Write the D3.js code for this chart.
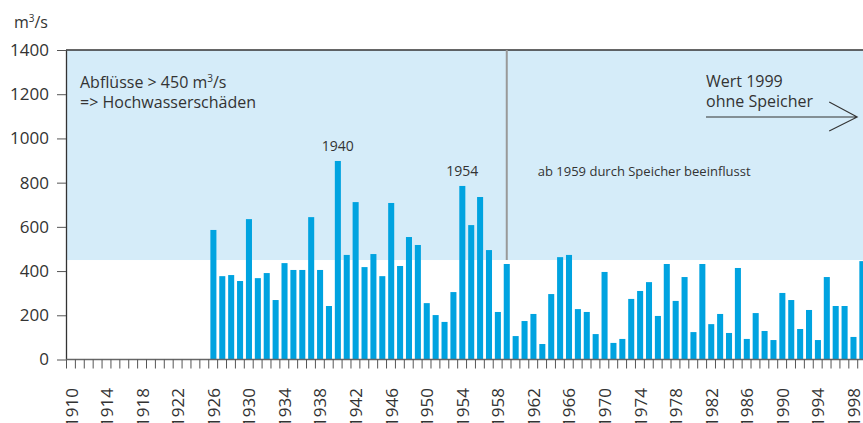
<!DOCTYPE html>
<html>
<head>
<meta charset="utf-8">
<script src="https://cdn.jsdelivr.net/npm/d3@7"></script>
<style>
  body { margin: 0; background: #fff; }
  text { font-family: "Open Sans", sans-serif; fill: #333; }
</style>
</head>
<body>
<div class="container"></div>
<script>
/********** the Data **********/
// years on the x axis (one band per year)
let years = d3.range(1910, 2000);
let tickYears = [1910, 1914, 1918, 1922, 1926, 1930, 1934, 1938, 1942, 1946, 1950,
                 1954, 1958, 1962, 1966, 1970, 1974, 1978, 1982, 1986, 1990, 1994, 1998];
let yTicks = [0, 200, 400, 600, 800, 1000, 1200, 1400];

// peak discharge m3/s, 1926..1999
let flowYears = d3.range(1926, 2000);
let flows = [586, 377, 382, 355, 635, 368, 391, 269, 436, 405,
             405, 644, 405, 242, 898, 473, 712, 418, 477, 377,
             708, 423, 554, 518, 255, 201, 170, 305, 785, 608,
             735, 495, 215, 432, 106, 174, 206, 70, 296, 463,
             473, 228, 215, 115, 396, 75, 93, 274, 310, 350,
             197, 432, 265, 373, 124, 432, 160, 206, 120, 414,
             93, 210, 129, 88, 301, 269, 138, 224, 88, 373,
             242, 242, 102, 445];

let threshold = 450;
let labelledPeaks = [1940, 1954];

/********** drawChart **********/
function drawChart() {
  let width = 863, height = 423;
  let margin = {top: 50, left: 66, bottom: 63.5};

  let svg = d3.select(".container").append("svg")
    .attr("width", width)
    .attr("height", height);

  // one band per year; last band runs a bit past the picture edge
  let xScale = d3.scaleBand()
    .domain(years)
    .range([margin.left, margin.left + years.length * 8.89])
    .padding(0);
  let bw = xScale.bandwidth();

  let yScale = d3.scaleLinear()
    .domain([0, 1400])
    .range([height - margin.bottom, margin.top]);

  // light blue "flood damage" zone
  svg.append("rect")
    .attr("x", margin.left)
    .attr("y", yScale(1400))
    .attr("width", width - margin.left)
    .attr("height", yScale(threshold) - yScale(1400))
    .attr("fill", "#d5ecf9");

  // bars
  svg.append("g").selectAll("rect")
    .data(flowYears.map((yr, i) => ({year: yr, value: flows[i]})))
    .join("rect")
      .attr("x", d => xScale(d.year) + bw * 0.24)
      .attr("width", bw * 0.68)
      .attr("y", d => yScale(d.value))
      .attr("height", d => yScale(0) - yScale(d.value))
      .attr("fill", "#00a3e0");

  // y axis
  let yAxis = svg.append("g")
    .attr("transform", `translate(${margin.left}, 0)`)
    .call(d3.axisLeft(yScale).tickValues(yTicks).tickFormat(d3.format("d"))
      .tickSize(9).tickPadding(8).tickSizeOuter(0));
  yAxis.select(".domain").attr("stroke", "#333").attr("stroke-width", 1.3);
  yAxis.selectAll(".tick line").attr("stroke", "#555");
  yAxis.selectAll(".tick text").style("font-size", "17px").attr("fill", "#333");

  // top frame line
  svg.append("line")
    .attr("x1", margin.left).attr("x2", width)
    .attr("y1", yScale(1400)).attr("y2", yScale(1400))
    .attr("stroke", "#333").attr("stroke-width", 1.3);

  // x axis baseline + a tick at every band start
  svg.append("line")
    .attr("x1", margin.left).attr("x2", width)
    .attr("y1", yScale(0)).attr("y2", yScale(0))
    .attr("stroke", "#666").attr("stroke-width", 1.3);

  svg.append("g").selectAll("line")
    .data(years)
    .join("line")
      .attr("x1", d => xScale(d) + 0.5).attr("x2", d => xScale(d) + 0.5)
      .attr("y1", yScale(0)).attr("y2", yScale(0) + 9)
      .attr("stroke", "#555");

  // rotated year labels
  svg.append("g").selectAll("text")
    .data(tickYears)
    .join("text")
      .attr("transform", d => `translate(${xScale(d) + bw / 2 + 1}, 388) rotate(-90)`)
      .attr("dy", "0.36em")
      .attr("text-anchor", "end")
      .style("font-size", "17px")
      .text(d => d);

  // unit label
  let unit = svg.append("text")
    .attr("x", 48).attr("y", 28)
    .attr("text-anchor", "end")
    .style("font-size", "16px");
  unit.append("tspan").text("m");
  unit.append("tspan").attr("dy", -6).style("font-size", "10px").text("3");
  unit.append("tspan").attr("dy", 6).text("/s");

  // threshold note
  let note = svg.append("text")
    .attr("x", 80).attr("y", 88)
    .style("font-size", "16px");
  note.append("tspan").text("Abflüsse > 450 m");
  note.append("tspan").attr("dy", -6).style("font-size", "10px").text("3");
  note.append("tspan").attr("dy", 6).text("/s");
  svg.append("text")
    .attr("x", 80).attr("y", 108)
    .style("font-size", "16px")
    .text("=> Hochwasserschäden");

  // peak year labels
  svg.append("g").selectAll("text")
    .data(labelledPeaks)
    .join("text")
      .attr("x", d => xScale(d) + bw * 0.58)
      .attr("y", d => yScale(flows[flowYears.indexOf(d)]) - 10)
      .attr("text-anchor", "middle")
      .style("font-size", "14px")
      .text(d => d);

  // reservoir since 1959
  let x1959 = xScale(1959) + bw * 0.58;
  svg.append("line")
    .attr("x1", x1959).attr("x2", x1959)
    .attr("y1", yScale(1400)).attr("y2", yScale(threshold))
    .attr("stroke", "#999").attr("stroke-width", 2);
  svg.append("text")
    .attr("x", x1959 + 31).attr("y", 176)
    .style("font-size", "13px")
    .text("ab 1959 durch Speicher beeinflusst");

  // 1999 value without reservoir
  svg.append("text")
    .attr("x", 706).attr("y", 87)
    .style("font-size", "16px")
    .text("Wert 1999");
  svg.append("text")
    .attr("x", 706).attr("y", 107)
    .style("font-size", "16px")
    .text("ohne Speicher");

  let tipX = xScale(1999), arrowY = 117;
  svg.append("path")
    .attr("d", `M706,${arrowY}H${tipX}M${tipX - 28},${arrowY - 15}L${tipX},${arrowY}L${tipX - 28},${arrowY + 14}`)
    .attr("fill", "none")
    .attr("stroke", "#333")
    .attr("stroke-width", 1.1);
}

drawChart();
</script>
</body>
</html>
